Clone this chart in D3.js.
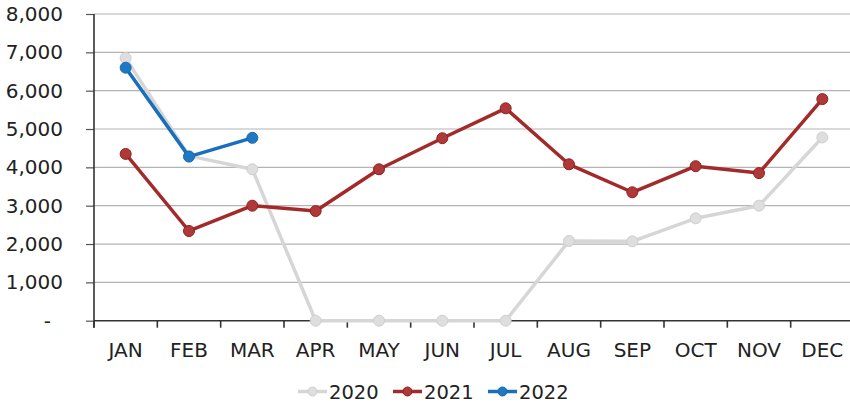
<!DOCTYPE html>
<html>
<head>
<meta charset="utf-8">
<script src="https://cdn.jsdelivr.net/npm/d3@7"></script>
<style>
  html, body { margin: 0; padding: 0; background: #ffffff; }
  svg { display: block; }
  svg text { font-family: "DejaVu Sans", Verdana, sans-serif; }
</style>
</head>
<body>
<svg id="chart" width="850" height="404"></svg>
<script>
// Monthly values by year
const months = ["JAN","FEB","MAR","APR","MAY","JUN","JUL","AUG","SEP","OCT","NOV","DEC"];
const values2020 = [6850, 4300, 3950, 0, 0, 0, 0, 2080, 2070, 2670, 3000, 4780];
const values2021 = [4350, 2340, 3000, 2860, 3950, 4760, 5540, 4080, 3350, 4030, 3850, 5780];
const values2022 = [6600, 4280, 4770];
const yTicks = [0, 1000, 2000, 3000, 4000, 5000, 6000, 7000, 8000];

const seriesList = [
  { name: "2020", values: values2020, color: "#d6d6d6", fill: "#dedede", stroke: "#cfcfcf" },
  { name: "2021", values: values2021, color: "#a32a2a", fill: "#b03838", stroke: "#8e2222" },
  { name: "2022", values: values2022, color: "#1a6fbd", fill: "#1f78c4", stroke: "#1a6ab0" }
];

const FONT = '"DejaVu Sans", Verdana, sans-serif';
const svg = d3.select("#chart");
const plotLeft = 94, plotRight = 854, plotTop = 14, plotBottom = 320.7;

const x = d3.scaleBand().domain(months).range([plotLeft, plotRight]);
const y = d3.scaleLinear().domain([0, 8000]).range([plotBottom, plotTop]);

// Value axis labels with left tick marks
const yAxis = svg.append("g")
  .attr("transform", `translate(${plotLeft},0)`)
  .call(d3.axisLeft(y).tickValues(yTicks)
    .tickSize(8)
    .tickPadding(23)
    .tickFormat(d => d === 0 ? "-" : d3.format(",")(d)));
yAxis.attr("font-family", FONT);
yAxis.select(".domain").remove();
yAxis.selectAll(".tick line").attr("stroke", "#555").attr("stroke-width", 1.2);
yAxis.selectAll(".tick text")
  .attr("font-size", 20)
  .attr("fill", "#222")
  .attr("dx", d => d === 0 ? -12 : 0);

// Horizontal gridlines
const grid = svg.append("g");
grid.selectAll("line").data(yTicks.filter(d => d > 0)).join("line")
  .attr("x1", plotLeft).attr("x2", 850)
  .attr("y1", d => y(d)).attr("y2", d => y(d))
  .attr("stroke", "#b4b4b4").attr("stroke-width", 1.2);

// Vertical axis line
svg.append("line")
  .attr("x1", plotLeft).attr("x2", plotLeft)
  .attr("y1", plotTop).attr("y2", plotBottom + 7)
  .attr("stroke", "#333").attr("stroke-width", 1.6);

// Category axis along zero
const xAxis = svg.append("g")
  .attr("transform", `translate(0,${plotBottom})`)
  .call(d3.axisBottom(x).tickSize(0).tickPadding(22));
xAxis.attr("font-family", FONT);
xAxis.select(".domain").attr("stroke", "#333").attr("stroke-width", 1.6)
  .attr("d", `M${plotLeft},0H850`);
xAxis.selectAll(".tick text").attr("font-size", 20).attr("fill", "#222");

// Tick marks at category boundaries
const boundaries = months.map(m => x(m)).concat([plotRight]).filter(v => v <= 850);
svg.append("g").selectAll("line").data(boundaries).join("line")
  .attr("x1", d => d).attr("x2", d => d)
  .attr("y1", plotBottom).attr("y2", plotBottom + 7)
  .attr("stroke", "#333").attr("stroke-width", 1.6);

const cx = m => x(m) + x.bandwidth() / 2;
const line = d3.line().x((d, i) => cx(months[i])).y(d => y(d));

seriesList.forEach(s => {
  const g = svg.append("g");
  g.append("path")
    .attr("d", line(s.values))
    .attr("fill", "none")
    .attr("stroke", s.color)
    .attr("stroke-width", 3.5)
    .attr("stroke-linejoin", "round");
  g.selectAll("circle").data(s.values).join("circle")
    .attr("cx", (d, i) => cx(months[i]))
    .attr("cy", d => y(d))
    .attr("r", 5.5)
    .attr("fill", s.fill)
    .attr("stroke", s.stroke)
    .attr("stroke-width", 1);
});

// Legend
const legendX = [298, 393, 488];
const legend = svg.append("g");
seriesList.forEach((s, i) => {
  const lx = legendX[i], ly = 391.5;
  legend.append("line")
    .attr("x1", lx).attr("x2", lx + 29)
    .attr("y1", ly).attr("y2", ly)
    .attr("stroke", s.color).attr("stroke-width", 3.5);
  legend.append("circle")
    .attr("cx", lx + 14.5).attr("cy", ly).attr("r", 4.5)
    .attr("fill", s.fill).attr("stroke", s.stroke);
  legend.append("text")
    .attr("x", lx + 31).attr("y", ly)
    .attr("dy", "0.36em")
    .attr("font-family", FONT)
    .attr("font-size", 19.5)
    .attr("fill", "#222")
    .text(s.name);
});
</script>
</body>
</html>
